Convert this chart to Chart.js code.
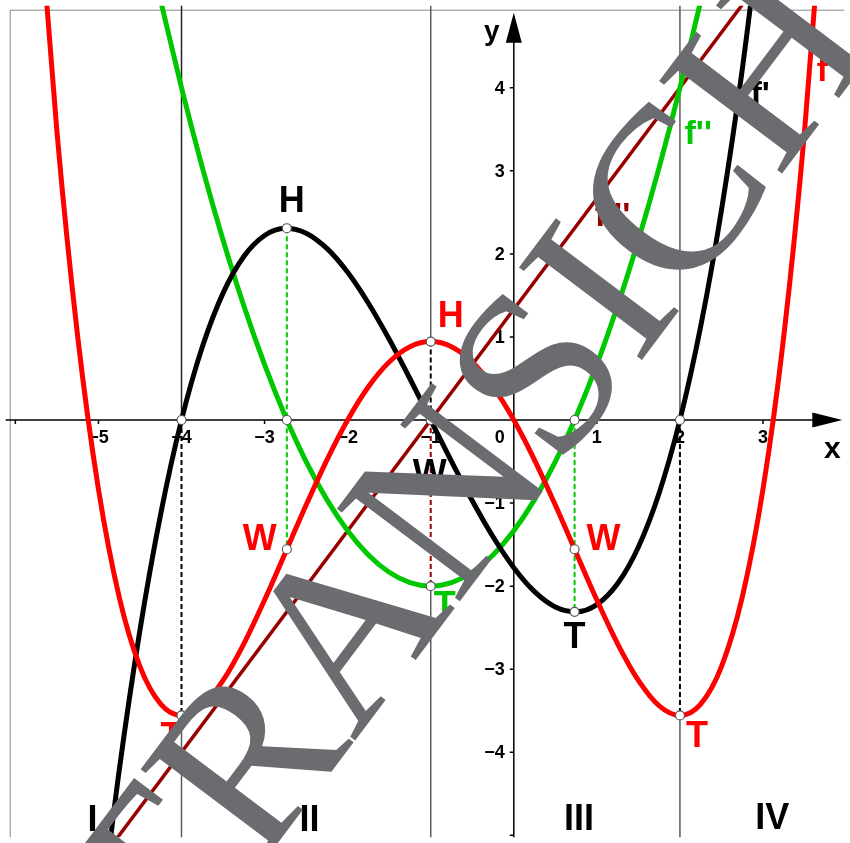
<!DOCTYPE html>
<html>
<head>
<meta charset="utf-8">
<script src="https://cdn.jsdelivr.net/npm/chart.js@4.4.1/dist/chart.umd.min.js"></script>
<style>
  html, body { margin: 0; padding: 0; background: #fff; }
  #wrap { width: 850px; height: 843px; position: relative; }
</style>
</head>
<body>
<div id="wrap"><canvas id="c"></canvas></div>
<script>
// Visible window of the coordinate system
const xRange = [-6.1164, 3.9786];
const yRange = [-5.0238, 4.9881];

// Tick values and their labels
const xTicks      = [-6, -5, -4, -3, -2, -1, 1, 2, 3];
const xTickLabels = ['', '\u22125', '\u22124', '\u22123', '\u22122', '\u22121', '1', '2', '3'];
const yTicks      = [-5, -4, -3, -2, -1, 1, 2, 3, 4];
const yTickLabels = ['', '\u22124', '\u22123', '\u22122', '\u22121', '1', '2', '3', '4'];

// f (red)
const xF = [-5.75, -5.5, -5.25, -5, -4.75, -4.5, -4.25, -4, -3.75, -3.5, -3.25, -3, -2.75, -2.5, -2.25, -2,
            -1.75, -1.5, -1.25, -1, -0.75, -0.5, -0.25, 0, 0.25, 0.5, 0.75, 1, 1.25, 1.5, 1.75, 2,
            2.25, 2.5, 2.75, 3, 3.25, 3.5, 3.75];
const yF = [6.663, 3.476, 1.007, -0.833, -2.132, -2.969, -3.420, -3.556, -3.441, -3.135, -2.694, -2.167,
            -1.597, -1.024, -0.482, 0, 0.400, 0.698, 0.882, 0.944, 0.882, 0.698, 0.400, 0, -0.482, -1.024,
            -1.597, -2.167, -2.694, -3.135, -3.441, -3.556, -3.420, -2.969, -2.132, -0.833, 1.007, 3.476, 6.663];

// f' (black)
const xF1 = [-5, -4.75, -4.5, -4.25, -4, -3.75, -3.5, -3.25, -3, -2.75, -2.5, -2.25, -2, -1.75, -1.5, -1.25,
             -1, -0.75, -0.5, -0.25, 0, 0.25, 0.5, 0.75, 1, 1.25, 1.5, 1.75, 2, 2.25, 2.5, 2.75, 3];
const yF1 = [-6.222, -4.219, -2.528, -1.128, 0, 0.878, 1.528, 1.969, 2.222, 2.309, 2.25, 2.066, 1.778, 1.406,
             0.972, 0.497, 0, -0.497, -0.972, -1.406, -1.778, -2.066, -2.25, -2.309, -2.222, -1.969, -1.528,
             -0.878, 0, 1.128, 2.528, 4.219, 6.222];

// f'' (green)
const xF2 = [-4.5, -4.25, -4, -3.75, -3.5, -3.25, -3, -2.75, -2.5, -2.25, -2, -1.75, -1.5, -1.25, -1,
             -0.75, -0.5, -0.25, 0, 0.25, 0.5, 0.75, 1, 1.25, 1.5, 1.75, 2, 2.25, 2.5];
const yF2 = [6.167, 5.042, 4, 3.042, 2.167, 1.375, 0.667, 0.042, -0.5, -0.958, -1.333, -1.625, -1.833, -1.958,
             -2, -1.958, -1.833, -1.625, -1.333, -0.958, -0.5, 0.042, 0.667, 1.375, 2.167, 3.042, 4, 5.042, 6.167];

// f''' (dark red)
const xF3 = [-5, 3];
const yF3 = [-5.333, 5.333];

// Special points
const xExtF = [-4, -1, 2];            // extrema of f = zeros of f'
const yExtF = [-3.556, 0.944, -3.556];
const xInfl = [-2.732, 0.732];        // inflection points of f = extrema of f'
const yInflF = [-1.556, -1.556];
const yExtF1 = [2.309, -2.309];
const xMinF2 = -1;                    // minimum of f'' = inflection of f'
const yMinF2 = -2;

const RED = '#ff0000', BLACK = '#000000', GREEN = '#00c800', DARKRED = '#990000';

const pts = (xs, ys) => xs.map((x, i) => ({ x, y: ys[i] }));
// several two-point segments in one dataset, separated by gaps
const segs = list => {
  const out = [];
  list.forEach(([x0, y0, x1, y1], i) => {
    if (i) out.push({ x: x0, y: null });
    out.push({ x: x0, y: y0 }, { x: x1, y: y1 });
  });
  return out;
};

const yTopEdge = yRange[1] + 0.3, yBotEdge = yRange[0] - 0.3;

const markerPts = [
  { x: xExtF[0], y: 0 }, { x: xExtF[2], y: 0 },
  { x: xInfl[0], y: 0 }, { x: xInfl[1], y: 0 },
  { x: xInfl[0], y: yExtF1[0] }, { x: xInfl[1], y: yExtF1[1] },
  { x: xInfl[0], y: yInflF[0] }, { x: xInfl[1], y: yInflF[1] },
  { x: xExtF[0], y: yExtF[0] }, { x: xExtF[1], y: yExtF[1] }, { x: xExtF[2], y: yExtF[2] },
  { x: xMinF2, y: yMinF2 }, { x: xMinF2, y: 0 }
];

const dashBlack = segs([
  [xExtF[0], 0, xExtF[0], yExtF[0]],
  [xExtF[2], 0, xExtF[2], yExtF[2]],
  [xExtF[1], yExtF[1], xExtF[1], 0]
]);
const dashGreen = segs([
  [xInfl[0], yExtF1[0], xInfl[0], yInflF[0]],
  [xInfl[1], 0, xInfl[1], yExtF1[1]]
]);
const dashDark = segs([[xMinF2, 0, xMinF2, yMinF2]]);
const guideUpper = segs([[xExtF[0], yTopEdge, xExtF[0], 0]]);
const guides = segs([
  [xExtF[0], yExtF[0], xExtF[0], yBotEdge],
  [xExtF[1], yTopEdge, xExtF[1], yExtF[1]],
  [xMinF2, yMinF2, xMinF2, yBotEdge],
  [xExtF[2], yTopEdge, xExtF[2], 0],
  [xExtF[2], yExtF[2], xExtF[2], yBotEdge]
]);

// Text annotations: anchor in data units, shift in pixels
const BOLD = '"Liberation Sans", Arial, sans-serif';
const notes = [
  { t: 'H', x: xInfl[0], y: yExtF1[0], dx: 5, dy: -28, c: BLACK },
  { t: 'H', x: xExtF[1], y: yExtF[1], dx: 20, dy: -27, c: RED },
  { t: 'W', x: xMinF2, y: 0, dx: -1, dy: 53, c: BLACK },
  { t: 'T', x: xMinF2, y: yMinF2, dx: 14, dy: 19, c: GREEN },
  { t: 'W', x: xInfl[0], y: yInflF[0], dx: -27, dy: -11, c: RED },
  { t: 'W', x: xInfl[1], y: yInflF[1], dx: 29, dy: -11, c: RED },
  { t: 'T', x: xInfl[1], y: yExtF1[1], dx: 0, dy: 24, c: BLACK },
  { t: 'T', x: xExtF[2], y: yExtF[2], dx: 17, dy: 20, c: RED },
  { t: 'T', x: xExtF[0], y: yExtF[0], dx: -10, dy: 21, c: RED }
];
const curveNames = [
  { t: "f'", x: 2.85, y: 3.93, c: BLACK },
  { t: "f''", x: 2.055, y: 3.456, c: GREEN },
  { t: "f'''", x: 0.974, y: 2.47, c: DARKRED },
  { t: 'f', x: 3.646, y: 4.216, c: RED }
];
const regions = [
  { t: 'I', x: -5.071, y: -4.81 },
  { t: 'II', x: -2.458, y: -4.80 },
  { t: 'III', x: 0.784, y: -4.79 },
  { t: 'IV', x: 3.112, y: -4.786 }
];

const axesPlugin = {
  id: 'axes',
  beforeDatasetsDraw(chart) {
    const { ctx, scales: { x, y }, chartArea: a } = chart;
    const ox = x.getPixelForValue(0), oy = y.getPixelForValue(0);
    ctx.save();
    // frame
    ctx.strokeStyle = '#8a8a8a';
    ctx.lineWidth = 1;
    ctx.beginPath();
    ctx.moveTo(a.left + 4.5, a.bottom); ctx.lineTo(a.left + 4.5, a.top + 4.5); ctx.lineTo(a.right, a.top + 4.5);
    ctx.stroke();
    // axis lines
    ctx.strokeStyle = '#000';
    ctx.lineWidth = 1.5;
    ctx.beginPath();
    ctx.moveTo(a.left, oy); ctx.lineTo(a.right - 10, oy);
    ctx.moveTo(ox, a.bottom); ctx.lineTo(ox, a.top + 12);
    ctx.stroke();
    // arrow heads
    ctx.fillStyle = '#000';
    ctx.beginPath();
    ctx.moveTo(a.right - 2, oy); ctx.lineTo(a.right - 32, oy - 7.5); ctx.lineTo(a.right - 32, oy + 7.5);
    ctx.closePath(); ctx.fill();
    ctx.beginPath();
    ctx.moveTo(ox, a.top + 7); ctx.lineTo(ox - 8, a.top + 37); ctx.lineTo(ox + 8, a.top + 37);
    ctx.closePath(); ctx.fill();
    // tick marks
    ctx.lineWidth = 1.5;
    ctx.beginPath();
    xTicks.forEach(v => { const p = x.getPixelForValue(v); ctx.moveTo(p, oy); ctx.lineTo(p, oy + 4); });
    yTicks.forEach(v => { const p = y.getPixelForValue(v); ctx.moveTo(ox, p); ctx.lineTo(ox - 4, p); });
    ctx.stroke();
    // tick labels
    ctx.font = 'bold 18px ' + BOLD;
    ctx.textBaseline = 'middle';
    ctx.textAlign = 'center';
    xTicks.forEach((v, i) => ctx.fillText(xTickLabels[i], x.getPixelForValue(v), oy + 18));
    ctx.textAlign = 'right';
    yTicks.forEach((v, i) => ctx.fillText(yTickLabels[i], ox - 9, y.getPixelForValue(v) + 1));
    ctx.fillText('0', ox - 9, oy + 18);
    // axis names
    ctx.textAlign = 'center';
    ctx.font = 'bold 30px ' + BOLD;
    ctx.fillText('x', a.right - 12, oy + 30);
    ctx.font = 'bold 28px ' + BOLD;
    ctx.fillText('y', ox - 22, a.top + 27);
    ctx.restore();
  },
  afterDatasetsDraw(chart) {
    const { ctx, scales: { x, y } } = chart;
    ctx.save();
    ctx.font = 'bold 36px ' + BOLD;
    ctx.textBaseline = 'middle';
    ctx.textAlign = 'center';
    notes.forEach(n => {
      ctx.fillStyle = n.c;
      ctx.fillText(n.t, x.getPixelForValue(n.x) + n.dx, y.getPixelForValue(n.y) + n.dy + 2);
    });
    ctx.fillStyle = BLACK;
    regions.forEach(r => ctx.fillText(r.t, x.getPixelForValue(r.x), y.getPixelForValue(r.y) + 2));
    ctx.textAlign = 'left';
    ctx.font = 'bold 34px ' + BOLD;
    curveNames.forEach(n => {
      ctx.fillStyle = n.c;
      ctx.fillText(n.t, x.getPixelForValue(n.x), y.getPixelForValue(n.y) + 2);
    });
    ctx.restore();
  },
  afterDraw(chart) {
    // diagonal stamp across the plot
    const { ctx } = chart;
    ctx.save();
    ctx.translate(173, 982);
    ctx.rotate(-53 * Math.PI / 180);
    ctx.font = '235px "Liberation Serif", "Times New Roman", serif';
    ctx.fillStyle = '#6b6c70';
    ctx.textBaseline = 'alphabetic';
    ctx.fillText('TRANSICH', 0, 0);
    ctx.restore();
  }
};

const curve = (data, color, w) => ({
  data, borderColor: color, borderWidth: w, showLine: true, pointRadius: 0,
  cubicInterpolationMode: 'monotone', fill: false
});
const line = (data, color, w, dash) => ({
  data, borderColor: color, borderWidth: w, showLine: true, pointRadius: 0,
  borderDash: dash || [], spanGaps: false, tension: 0, fill: false
});

new Chart(document.getElementById('c'), {
  type: 'scatter',
  data: {
    datasets: [
      { data: markerPts, showLine: false, pointRadius: 4.5, pointHoverRadius: 4.5, pointBorderWidth: 1.2,
        pointBackgroundColor: '#ffffff', pointBorderColor: '#555555' },
      curve(pts(xF, yF), RED, 5),
      curve(pts(xF1, yF1), BLACK, 5),
      curve(pts(xF2, yF2), GREEN, 5),
      line(pts(xF3, yF3), DARKRED, 3.5),
      line(dashBlack, BLACK, 2, [5, 3]),
      line(dashGreen, GREEN, 2, [5, 3]),
      line(dashDark, DARKRED, 2, [5, 3]),
      line(guideUpper, '#222222', 1.5),
      line(guides, '#5a5a5a', 1.5)
    ]
  },
  options: {
    responsive: true,
    maintainAspectRatio: false,
    animation: false,
    events: [],
    layout: { padding: 0 },
    plugins: { legend: { display: false }, tooltip: { enabled: false } },
    scales: {
      x: { type: 'linear', min: xRange[0], max: xRange[1], display: false },
      y: { type: 'linear', min: yRange[0], max: yRange[1], display: false }
    }
  },
  plugins: [axesPlugin]
});
</script>
</body>
</html>
